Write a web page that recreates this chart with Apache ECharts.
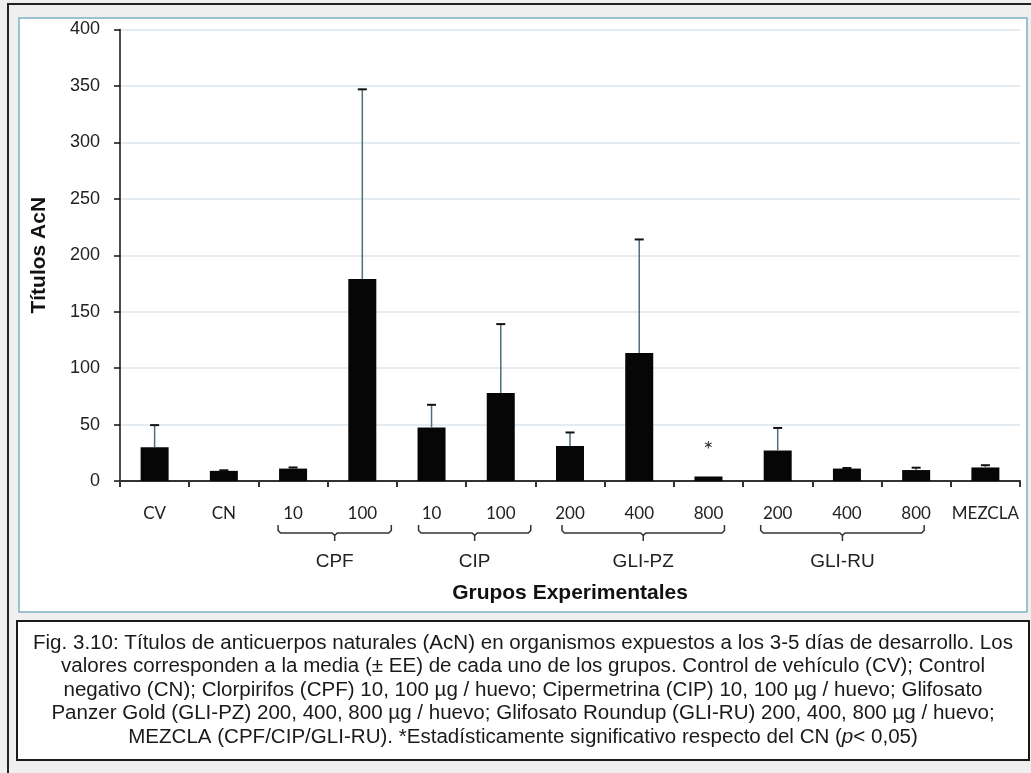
<!DOCTYPE html>
<html>
<head>
<meta charset="utf-8">
<script src="https://cdn.jsdelivr.net/npm/echarts@6/dist/echarts.min.js"></script>
<style>
html,body{margin:0;padding:0;background:#efefef;}
#c{width:1031px;height:773px;}
</style>
</head>
<body>
<div id="c"></div>
<script>
// ---- data ----
const categories = ['CV','CN','10','100','10','100','200','400','800','200','400','800','MEZCLA'];
const means      = [30, 9, 11, 179, 47.5, 78, 31, 113.5, 4, 27, 11, 9.7, 12];
const errors     = [19.5, 0.5, 1, 168, 20, 61, 12, 100.5, 0, 20, 0.5, 2.1, 2];
const significant = [false,false,false,false,false,false,false,false,true,false,false,false,false];
const groupNames = ['CPF','CIP','GLI-PZ','GLI-RU'];
const groupFirst = [2, 4, 6, 9];
const groupLast  = [3, 5, 8, 11];
const yTicks = {min: 0, max: 400, interval: 50};
const yTitle = 'Títulos AcN';
const xTitle = 'Grupos Experimentales';
const captionLines = [
  'Fig. 3.10: Títulos de anticuerpos naturales (AcN) en organismos expuestos a los 3-5 días de desarrollo. Los',
  'valores corresponden a la media (± EE) de cada uno de los grupos. Control de vehículo (CV); Control',
  'negativo (CN); Clorpirifos (CPF) 10, 100 µg / huevo; Cipermetrina (CIP) 10, 100 µg / huevo; Glifosato',
  'Panzer Gold (GLI-PZ) 200, 400, 800 µg / huevo; Glifosato Roundup (GLI-RU) 200, 400, 800 µg / huevo;',
  'MEZCLA (CPF/CIP/GLI-RU). *Estadísticamente significativo respecto del CN ({i|p}< 0,05)'
];

// ---- build ----
const chart = echarts.init(document.getElementById('c'), null, {renderer:'canvas'});

const barData = means.map((v,i)=> significant[i] ? {
  value: v,
  label: {show:true, position:'top', distance: 14, formatter:'*', fontFamily:'Lato', fontSize:24, color:'#333'}
} : v);
const errData = means.map((v,i)=>[i, v, v+errors[i]]);

const option = {
  backgroundColor: '#efefef',
  animation: false,
  grid: {left:120, right:11, top:29.5, bottom:292, containLabel:false},
  xAxis: {
    type:'category',
    data: categories,
    axisLine: {lineStyle:{color:'#333', width:2}},
    axisTick: {show:true, length:6, lineStyle:{color:'#333', width:2}},
    axisLabel: {fontFamily:'Lato', fontSize:17, color:'#222', margin:24, lineHeight:17, interval:0},
    name: xTitle, nameLocation:'middle', nameGap:102,
    nameTextStyle: {fontFamily:'Liberation Sans', fontWeight:'bold', fontSize:21, color:'#111'}
  },
  yAxis: {
    type:'value', min:yTicks.min, max:yTicks.max, interval:yTicks.interval,
    axisLine: {show:true, lineStyle:{color:'#111', width:1.5}},
    axisTick: {show:true, length:6, lineStyle:{color:'#111', width:1.5}},
    axisLabel: {fontFamily:'Liberation Sans', fontSize:18, color:'#222', margin:20},
    splitLine: {show:true, lineStyle:{color:'#dbe5ed', width:1.5}},
    name: yTitle, nameLocation:'middle', nameGap:70, nameRotate:90,
    nameTextStyle: {fontFamily:'Liberation Sans', fontWeight:'bold', fontSize:21, color:'#111'}
  },
  series: [
    {type:'bar', data: barData, barWidth:28, itemStyle:{color:'#060606'}, z:3},
    {type:'custom', data: errData, z:4,
      renderItem: function(params, api){
        const i = api.value(0), lo = api.value(1), hi = api.value(2);
        if (hi - lo <= 0) return null;
        const p0 = api.coord([i, lo]);
        const p1 = api.coord([i, hi]);
        return {type:'group', children:[
          {type:'line', shape:{x1:p0[0], y1:p0[1], x2:p1[0], y2:p1[1]}, style:{stroke:'#4f6f7b', lineWidth:1.5}},
          {type:'line', shape:{x1:p1[0]-4.5, y1:p1[1], x2:p1[0]+4.5, y2:p1[1]}, style:{stroke:'#111', lineWidth:2}}
        ]};
      }
    }
  ]
};
chart.setOption(option);

// caption scaling to match the original line length
const cv = document.createElement('canvas').getContext('2d');
cv.font = '20px "Liberation Sans"';
const capScale = 980 / cv.measureText(captionLines[0]).width;

function drawGraphics(){
  const els = [];
  els.push({type:'rect', z:-20, shape:{x:8, y:4, width:1040, height:790}, style:{fill:'#efefef', stroke:'#222', lineWidth:2}});
  els.push({type:'rect', z:-10, shape:{x:19, y:18, width:1008, height:594}, style:{fill:'#ffffff', stroke:'#7fb0c6', lineWidth:1.5}});
  els.push({type:'rect', z:-10, shape:{x:17, y:621, width:1012, height:139}, style:{fill:'#ffffff', stroke:'#1a1a1a', lineWidth:2}});
  const pads = [[-15,29],[-13,30],[-8,16],[-17,8]];
  groupNames.forEach((g,k)=>{
    const a = chart.convertToPixel({xAxisIndex:0}, groupFirst[k]);
    const b = chart.convertToPixel({xAxisIndex:0}, groupLast[k]);
    const x1 = a + pads[k][0], x2 = b + pads[k][1], xm = (x1+x2)/2;
    const yT = 525, yL = 533, yB = 541;
    const pts = [[x1,yT],[x1,yL-2.5],[x1+2.5,yL],[xm-2.5,yL],[xm,yL+2.5],[xm,yB],[xm,yL+2.5],[xm+2.5,yL],[x2-2.5,yL],[x2,yL-2.5],[x2,yT]];
    els.push({type:'polyline', z:5, shape:{points: pts}, style:{fill:null, stroke:'#333', lineWidth:1.5}});
    els.push({type:'text', z:5, x:xm, y:562, style:{text:g, fontFamily:'Liberation Sans', fontSize:19, fill:'#222', align:'center', verticalAlign:'middle'}});
  });
  const capY = [643, 666.5, 690, 713.5, 737];
  captionLines.forEach((t,k)=>{
    els.push({type:'text', z:5, x:523, y:capY[k], scaleX:capScale, style:{
      text:t, fontFamily:'Liberation Sans', fontSize:20, fill:'#1a1a1a', align:'center', verticalAlign:'middle',
      rich:{i:{fontStyle:'italic', fontFamily:'Liberation Sans', fontSize:20, fill:'#1a1a1a'}}
    }});
  });
  chart.setOption({graphic:{elements:els}});
}
drawGraphics();
</script>
</body>
</html>
